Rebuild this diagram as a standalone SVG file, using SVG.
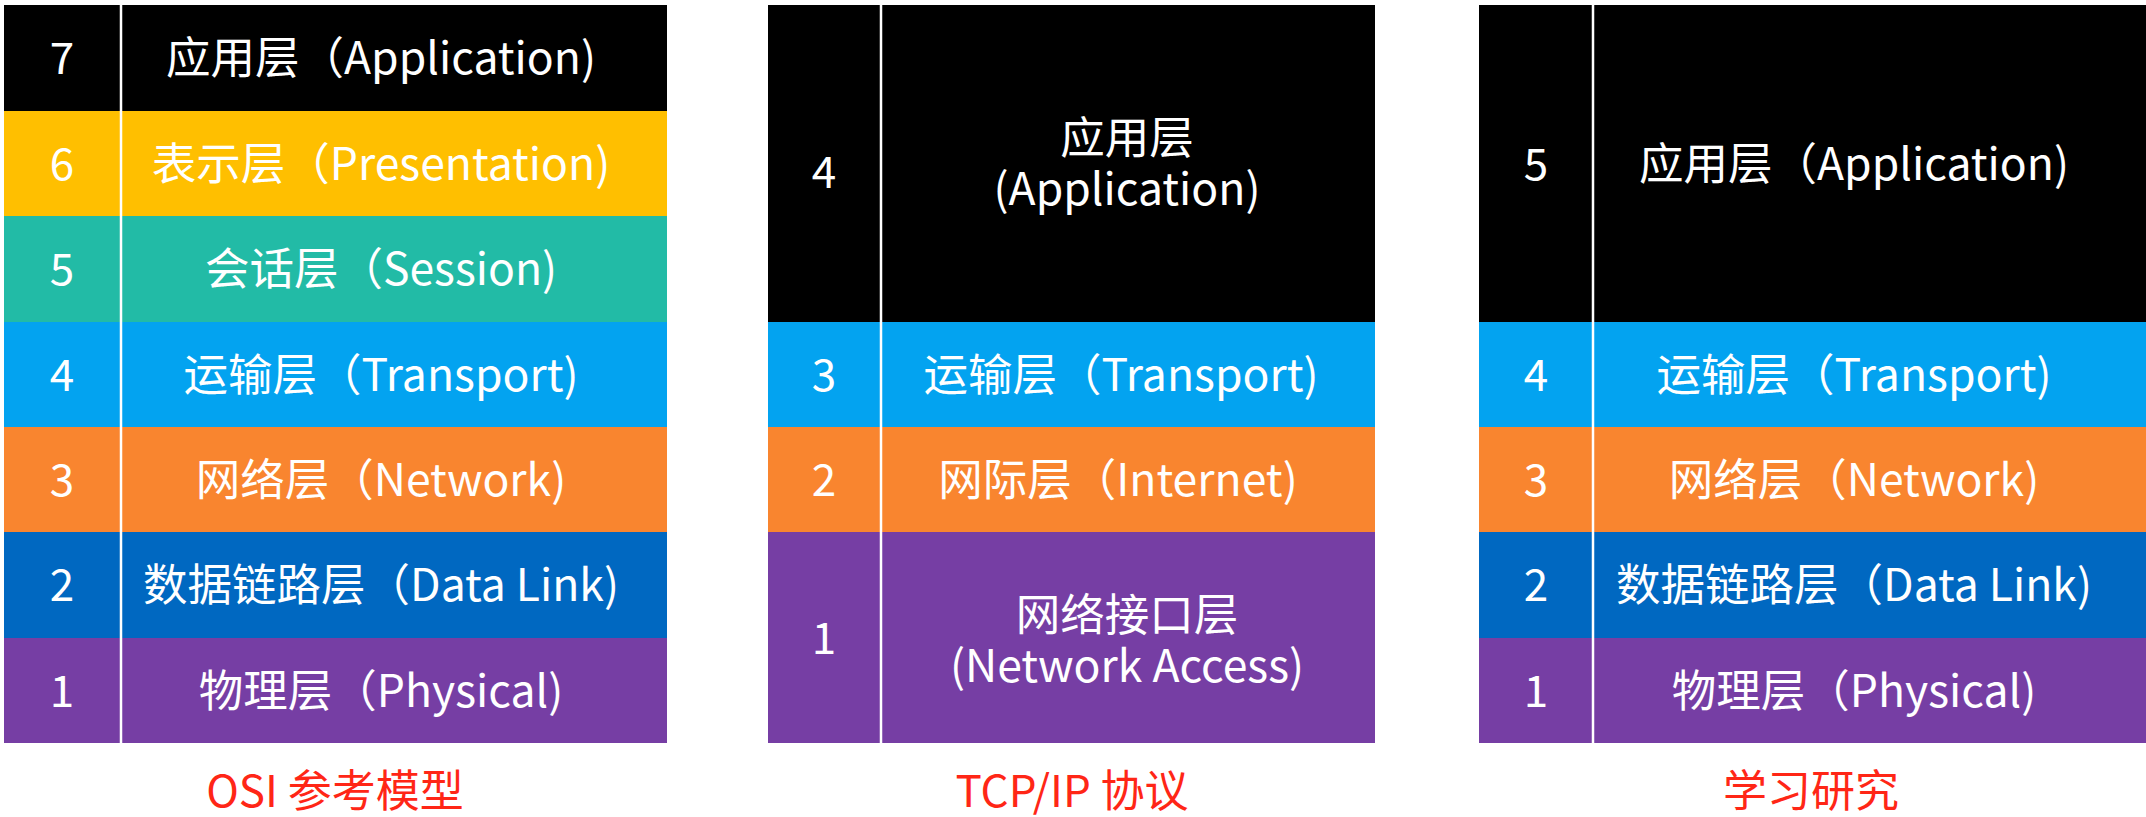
<svg xmlns="http://www.w3.org/2000/svg" width="2146" height="817" viewBox="0 0 2146 817">
<style>
.t{font-family:"Noto Sans CJK SC","Noto Sans",sans-serif;font-size:44.5px;fill:#ffffff;text-anchor:middle}
.n{font-family:"Noto Sans CJK SC","Noto Sans",sans-serif;font-size:44px;fill:#ffffff;text-anchor:middle}
.cap{font-family:"Noto Sans CJK SC","Noto Sans",sans-serif;font-size:44px;fill:#ff2616;text-anchor:middle}
.div{stroke:#ffffff;stroke-width:2.5}
.k{fill:#000000}.y{fill:#ffbf00}.g{fill:#22bba6}.b{fill:#03a3f0}.o{fill:#f9852f}.d{fill:#0068c1}.p{fill:#763ea4}
</style>
<rect width="2146" height="817" fill="#ffffff"/>
<g id="osi">
<g id="osi-7"><rect class="k" x="4" y="5" width="663" height="106"/><text class="n" x="62" y="74">7</text><text class="t" x="381" y="74">应用层（Application)</text></g>
<g id="osi-6"><rect class="y" x="4" y="111" width="663" height="105"/><text class="n" x="62" y="180">6</text><text class="t" x="381" y="180">表示层（Presentation)</text></g>
<g id="osi-5"><rect class="g" x="4" y="216" width="663" height="106"/><text class="n" x="62" y="285">5</text><text class="t" x="381" y="285">会话层（Session)</text></g>
<g id="osi-4"><rect class="b" x="4" y="322" width="663" height="105"/><text class="n" x="62" y="391">4</text><text class="t" x="381" y="391">运输层（Transport)</text></g>
<g id="osi-3"><rect class="o" x="4" y="427" width="663" height="105"/><text class="n" x="62" y="496">3</text><text class="t" x="381" y="496">网络层（Network)</text></g>
<g id="osi-2"><rect class="d" x="4" y="532" width="663" height="106"/><text class="n" x="62" y="601">2</text><text class="t" x="381" y="601">数据链路层（Data Link)</text></g>
<g id="osi-1"><rect class="p" x="4" y="638" width="663" height="105"/><text class="n" x="62" y="707">1</text><text class="t" x="381" y="707">物理层（Physical)</text></g>
<line class="div" x1="121" y1="5" x2="121" y2="743"/>
<text class="cap" x="335" y="807">OSI 参考模型</text>
</g>
<g id="tcpip">
<g id="tcp-4"><rect class="k" x="768" y="5" width="607" height="317"/><text class="n" x="824" y="188">4</text><text class="t" x="1127" y="154">应用层</text><text class="t" x="1127" y="205">(Application)</text></g>
<g id="tcp-3"><rect class="b" x="768" y="322" width="607" height="105"/><text class="n" x="824" y="391">3</text><text class="t" x="1121" y="391">运输层（Transport)</text></g>
<g id="tcp-2"><rect class="o" x="768" y="427" width="607" height="105"/><text class="n" x="824" y="496">2</text><text class="t" x="1118" y="496">网际层（Internet)</text></g>
<g id="tcp-1"><rect class="p" x="768" y="532" width="607" height="211"/><text class="n" x="824" y="654">1</text><text class="t" x="1127" y="631">网络接口层</text><text class="t" x="1127" y="682">(Network Access)</text></g>
<line class="div" x1="881" y1="5" x2="881" y2="743"/>
<text class="cap" x="1072" y="807">TCP/IP 协议</text>
</g>
<g id="study">
<g id="st-5"><rect class="k" x="1479" y="5" width="667" height="317"/><text class="n" x="1536" y="180">5</text><text class="t" x="1854" y="180">应用层（Application)</text></g>
<g id="st-4"><rect class="b" x="1479" y="322" width="667" height="105"/><text class="n" x="1536" y="391">4</text><text class="t" x="1854" y="391">运输层（Transport)</text></g>
<g id="st-3"><rect class="o" x="1479" y="427" width="667" height="105"/><text class="n" x="1536" y="496">3</text><text class="t" x="1854" y="496">网络层（Network)</text></g>
<g id="st-2"><rect class="d" x="1479" y="532" width="667" height="106"/><text class="n" x="1536" y="601">2</text><text class="t" x="1854" y="601">数据链路层（Data Link)</text></g>
<g id="st-1"><rect class="p" x="1479" y="638" width="667" height="105"/><text class="n" x="1536" y="707">1</text><text class="t" x="1854" y="707">物理层（Physical)</text></g>
<line class="div" x1="1593" y1="5" x2="1593" y2="743"/>
<text class="cap" x="1811" y="807">学习研究</text>
</g>
<g id="connectors"></g>
</svg>
